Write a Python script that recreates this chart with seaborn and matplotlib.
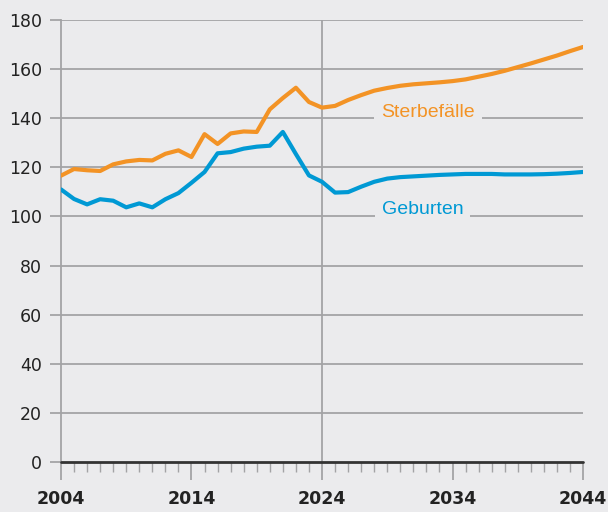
import numpy as np
import pandas as pd
import seaborn as sns
import matplotlib.pyplot as plt
from matplotlib.ticker import MultipleLocator

# values (thousands)
years = list(range(2004, 2045))
sterbefaelle = [116.6, 119.3, 118.8, 118.5, 121.2, 122.4, 123.0, 122.8, 125.5, 126.9,
                124.2, 133.5, 129.5, 133.8, 134.6, 134.4, 143.6, 148.2, 152.4, 146.6,
                144.3, 145.0, 147.4, 149.4, 151.2, 152.3, 153.2, 153.8, 154.2, 154.6,
                155.1, 155.8, 156.9, 158.0, 159.3, 160.8, 162.3, 163.9, 165.5, 167.3,
                169.0]
geburten = [111.0, 107.1, 104.9, 107.0, 106.4, 103.7, 105.3, 103.7, 107.0, 109.5,
            113.7, 118.1, 125.7, 126.2, 127.6, 128.4, 128.8, 134.4, 125.4, 116.7,
            114.1, 109.7, 109.9, 112.1, 114.1, 115.4, 116.0, 116.3, 116.6, 116.9,
            117.1, 117.3, 117.3, 117.3, 117.1, 117.1, 117.1, 117.2, 117.4, 117.7,
            118.1]
series_names = ["Sterbefälle", "Geburten"]
colors = ["#f39325", "#0099d4"]
y_ticks = list(range(0, 181, 20))
x_ticks = [2004, 2014, 2024, 2034, 2044]

bg = "#ebebed"
grid_col = "#a3a3a5"

df = pd.DataFrame({
    "Jahr": years * 2,
    "Wert": sterbefaelle + geburten,
    "Reihe": [series_names[0]] * len(years) + [series_names[1]] * len(years),
})

sns.set_theme(style="white")
plt.rcParams["font.family"] = ["DejaVu Sans"]

fig = plt.figure(figsize=(6.08, 5.12), dpi=100, facecolor=bg)
ax = fig.add_axes([0.1003, 0.0977, 0.8586, 0.8633])
ax.set_facecolor(bg)

# grid lines, drawn beneath the series
for v in y_ticks[1:]:
    ax.axhline(v, color=grid_col, lw=1.3, zorder=1)
ax.axvline(2024, color=grid_col, lw=1.3, zorder=1)

sns.lineplot(data=df, x="Jahr", y="Wert", hue="Reihe", palette=colors,
             linewidth=3.0, legend=False, ax=ax, zorder=3)

ax.axhline(0, color="#333333", lw=2.0, zorder=4, clip_on=False)

ax.set_xlim(2004, 2044)
ax.set_ylim(0, 180)
ax.set_xlabel("")
ax.set_ylabel("")

ax.set_yticks(y_ticks)
ax.set_xticks(x_ticks)
ax.xaxis.set_minor_locator(MultipleLocator(1))
ax.tick_params(axis="y", length=8, width=1.3, color=grid_col, pad=5.5,
               labelsize=12.5, labelcolor="#222222", left=True)
ax.tick_params(axis="x", which="major", length=13, width=1.3, color=grid_col,
               pad=7, labelsize=12.5, labelcolor="#222222", bottom=True)
ax.tick_params(axis="x", which="minor", length=7.5, width=1.0, color=grid_col,
               bottom=True)
for lab in ax.get_xticklabels():
    lab.set_fontweight("bold")

for side in ["top", "right", "bottom"]:
    ax.spines[side].set_visible(False)
ax.spines["left"].set_color(grid_col)
ax.spines["left"].set_linewidth(1.3)

ax.text(2032.1, 142.3, series_names[0], color=colors[0], fontsize=14,
        family="Liberation Sans", ha="center", va="center", zorder=2,
        bbox=dict(facecolor=bg, edgecolor="none", pad=5))
ax.text(2031.7, 103.0, series_names[1], color=colors[1], fontsize=14,
        family="Liberation Sans", ha="center", va="center", zorder=2,
        bbox=dict(facecolor=bg, edgecolor="none", pad=5))

fig.savefig("out.png", dpi=100, facecolor=bg)
plt.close(fig)
